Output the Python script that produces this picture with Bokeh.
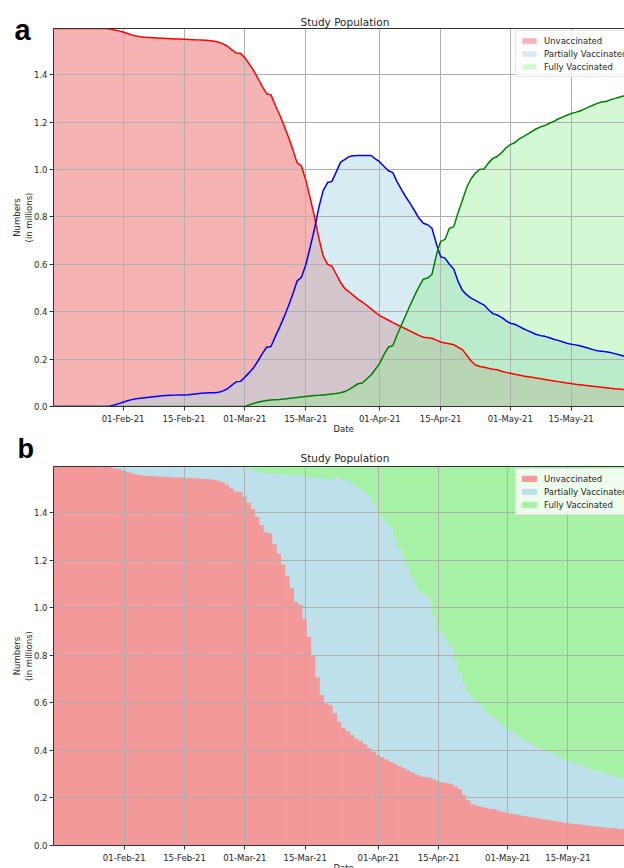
import pandas as pd
from bokeh.plotting import figure
from bokeh.models import (ColumnDataSource, FixedTicker, LinearAxis, Range1d, Title,
                          PrintfTickFormatter, DatetimeTickFormatter)
from bokeh.layouts import column
from bokeh.embed import file_html
from bokeh.resources import INLINE

# ---------------- data (daily, starting 16-Jan-2021), numbers in millions ----------------
start_date = "2021-01-16"

unvaccinated = [1.595] * 13 + [
    1.593, 1.589, 1.585, 1.580, 1.574, 1.568, 1.563, 1.560, 1.558, 1.557,
    1.556, 1.555, 1.554, 1.553, 1.552, 1.551, 1.551, 1.550, 1.549, 1.548,
    1.547, 1.546, 1.545, 1.543, 1.541, 1.537, 1.530, 1.520, 1.505, 1.492,
    1.490, 1.471, 1.445, 1.418, 1.385, 1.350, 1.320, 1.315, 1.270, 1.230,
    1.185, 1.137, 1.085, 1.028, 1.015, 0.955, 0.880, 0.800, 0.710, 0.635,
    0.600, 0.592, 0.558, 0.523, 0.497, 0.483, 0.468, 0.452, 0.441, 0.427,
    0.412, 0.397, 0.383, 0.374, 0.364, 0.354, 0.345, 0.336, 0.327, 0.318,
    0.309, 0.300, 0.292, 0.290, 0.288, 0.280, 0.272, 0.268, 0.265, 0.261,
    0.250, 0.240, 0.216, 0.192, 0.175, 0.169, 0.166, 0.161, 0.157, 0.155,
    0.149, 0.144, 0.140, 0.136, 0.133, 0.129, 0.126, 0.123, 0.120, 0.117,
    0.114, 0.111, 0.108, 0.105, 0.102, 0.099, 0.097, 0.094, 0.092, 0.090,
    0.088, 0.085, 0.083, 0.081, 0.079, 0.077, 0.075, 0.074, 0.072, 0.071,
    0.070]

partially_vaccinated = [0.0] * 13 + [
    0.002, 0.006, 0.012, 0.018, 0.024, 0.029, 0.033, 0.035, 0.037, 0.039,
    0.041, 0.043, 0.045, 0.046, 0.047, 0.048, 0.049, 0.049, 0.050, 0.052,
    0.054, 0.056, 0.057, 0.058, 0.058, 0.060, 0.066, 0.075, 0.090, 0.104,
    0.106, 0.124, 0.143, 0.164, 0.192, 0.223, 0.250, 0.253, 0.296, 0.335,
    0.378, 0.424, 0.474, 0.530, 0.545, 0.598, 0.672, 0.750, 0.840, 0.912,
    0.945, 0.950, 0.990, 1.031, 1.043, 1.055, 1.058, 1.059, 1.059, 1.059,
    1.059, 1.045, 1.032, 1.013, 0.995, 0.987, 0.948, 0.915, 0.884, 0.856,
    0.826, 0.795, 0.773, 0.767, 0.752, 0.688, 0.632, 0.626, 0.600, 0.580,
    0.528, 0.490, 0.471, 0.457, 0.448, 0.437, 0.428, 0.408, 0.392, 0.386,
    0.376, 0.362, 0.351, 0.347, 0.338, 0.328, 0.320, 0.312, 0.304, 0.299,
    0.296, 0.290, 0.284, 0.279, 0.273, 0.267, 0.263, 0.260, 0.256, 0.251,
    0.246, 0.240, 0.235, 0.233, 0.231, 0.228, 0.223, 0.218, 0.213, 0.211,
    0.209]

fully_vaccinated = [0.0] * 44 + [
    0.000, 0.007, 0.013, 0.018, 0.022, 0.025, 0.027, 0.029, 0.030, 0.032,
    0.034, 0.036, 0.038, 0.040, 0.042, 0.044, 0.046, 0.047, 0.049, 0.051,
    0.053, 0.055, 0.058, 0.063, 0.072, 0.084, 0.096, 0.099, 0.116, 0.133,
    0.157, 0.183, 0.220, 0.251, 0.256, 0.303, 0.345, 0.386, 0.428, 0.468,
    0.505, 0.537, 0.542, 0.557, 0.638, 0.697, 0.705, 0.752, 0.758, 0.818,
    0.870, 0.925, 0.961, 0.985, 1.001, 1.002, 1.028, 1.047, 1.055, 1.071,
    1.091, 1.105, 1.113, 1.128, 1.139, 1.149, 1.161, 1.172, 1.180, 1.186,
    1.195, 1.203, 1.213, 1.221, 1.229, 1.236, 1.241, 1.247, 1.255, 1.263,
    1.271, 1.279, 1.285, 1.287, 1.294, 1.299, 1.305, 1.310, 1.313, 1.316]

series_names = ["Unvaccinated", "Partially Vaccinated", "Fully Vaccinated"]
tick_dates = ["2021-02-01", "2021-02-15", "2021-03-01", "2021-03-15",
              "2021-04-01", "2021-04-15", "2021-05-01", "2021-05-15"]
tick_labels = ["01-Feb-21", "15-Feb-21", "01-Mar-21", "15-Mar-21",
               "01-Apr-21", "15-Apr-21", "01-May-21", "15-May-21"]
y_ticks = [0.0, 0.2, 0.4, 0.6, 0.8, 1.0, 1.2, 1.4]
y_max = 1.595

# ---------------- helpers ----------------
FONT = "DejaVu Sans"
TXT = "#262626"
SPINE = "#333333"
GRID = "#b0b0b0"
DAY_MS = 86400000

dates = pd.date_range(start_date, periods=len(unvaccinated), freq="D")
t0_ms = pd.Timestamp(start_date).value // 10**6
tick_ms = [pd.Timestamp(d).value // 10**6 for d in tick_dates]
overrides = {t: lab for t, lab in zip(tick_ms, tick_labels)}


def style(p):
    p.outline_line_color = None
    p.background_fill_color = "white"
    p.border_fill_color = "white"
    p.title.visible = False
    xt = FixedTicker(ticks=tick_ms)
    yt = FixedTicker(ticks=y_ticks)
    p.xaxis.ticker = xt
    p.xgrid.ticker = xt
    p.yaxis.ticker = yt
    p.ygrid.ticker = yt
    p.xaxis.formatter = DatetimeTickFormatter(days="%d-%b-%y", months="%d-%b-%y",
                                              years="%d-%b-%y", hours="%d-%b-%y")
    p.xaxis.major_label_overrides = overrides
    p.yaxis.formatter = PrintfTickFormatter(format="%.1f")
    for ax in (p.xaxis, p.yaxis):
        ax.axis_line_color = SPINE
        ax.axis_line_width = 1
        ax.major_tick_line_color = SPINE
        ax.major_tick_out = 4
        ax.major_tick_in = 0
        ax.minor_tick_line_color = None
        ax.major_label_text_font = FONT
        ax.major_label_text_font_size = "8.5px"
        ax.major_label_text_color = TXT
        ax.axis_label_text_font = FONT
        ax.axis_label_text_font_size = "8.5px"
        ax.axis_label_text_font_style = "normal"
        ax.axis_label_text_color = TXT
    p.xaxis.major_label_standoff = 3
    p.yaxis.major_label_standoff = 2
    p.yaxis.axis_label = "Numbers\n(in millions)"
    p.yaxis.axis_label_standoff = -3
    p.yaxis.axis_label_text_line_height = 1.2
    for g in (p.xgrid, p.ygrid):
        g.grid_line_color = GRID
        g.grid_line_width = 1
    top = LinearAxis(ticker=FixedTicker(ticks=[]), axis_line_color=SPINE,
                     major_tick_line_color=None, minor_tick_line_color=None,
                     major_tick_out=0, major_tick_in=0, minor_tick_out=0,
                     major_label_text_font_size="0px")
    p.add_layout(top, "above")


def title_sp(standoff):
    return Title(text="Study Population", text_font=FONT, text_font_size="10.5px",
                 text_font_style="normal", text_color=TXT, align="left",
                 offset=247, standoff=standoff)


def panel_letter(letter, size, offset, standoff):
    return Title(text=letter, text_font="Liberation Sans", text_font_size=size,
                 text_font_style="bold", text_color="black", align="left",
                 offset=offset, standoff=standoff)


def date_title(standoff):
    return Title(text="Date", text_font=FONT, text_font_size="8.5px",
                 text_font_style="normal", text_color=TXT, align="left",
                 offset=280, standoff=standoff)


def style_legend(p, loc):
    lg = p.legend[0]
    lg.location = loc
    lg.label_text_font = FONT
    lg.label_text_font_size = "8.5px"
    lg.label_text_color = TXT
    lg.glyph_width = 18
    lg.glyph_height = 7
    lg.label_height = 11
    lg.label_standoff = 6
    lg.spacing = 2
    lg.padding = 4
    lg.margin = 0
    lg.border_line_color = "#d0d0d0"
    lg.border_line_width = 1
    lg.background_fill_color = "white"
    lg.background_fill_alpha = 0.8


# ---------------- panel a ----------------
pa = figure(width=624, height=434, x_axis_type="datetime",
            x_range=Range1d(t0_ms, t0_ms + 131.26 * DAY_MS),
            y_range=Range1d(0, y_max),
            output_backend="svg", toolbar_location=None,
            min_border_left=53, min_border_right=0, min_border_top=28,
            min_border_bottom=28)
style(pa)
pa.add_layout(panel_letter("a", "29px", -39, -34), "above")
pa.add_layout(title_sp(2), "above")
pa.add_layout(date_title(-9), "below")

fills_a = [("#F08080", 0.6), ("#ADD8E6", 0.5), ("#90EE90", 0.4)]
line_cols = ["red", "blue", "green"]
series = [unvaccinated, partially_vaccinated, fully_vaccinated]
for s, name, (fc, fa) in zip(series, series_names, fills_a):
    pa.varea(x=dates, y1=0, y2=s, fill_color=fc, fill_alpha=fa,
             legend_label=name, level="image")
for s, lc in zip(series, line_cols):
    pa.line(x=dates, y=s, line_color=lc, line_width=1.5)
style_legend(pa, (462, 329))

# ---------------- panel b ----------------
src = ColumnDataSource(dict(date=dates, unvacc=unvaccinated,
                            partial=partially_vaccinated, full=fully_vaccinated))
pb = figure(width=624, height=434, x_axis_type="datetime",
            x_range=Range1d(t0_ms - 0.42 * DAY_MS, t0_ms + 132.13 * DAY_MS),
            y_range=Range1d(0, y_max),
            output_backend="svg", toolbar_location=None,
            min_border_left=51, min_border_right=0, min_border_top=32,
            min_border_bottom=23)
style(pb)
pb.add_layout(title_sp(6), "above")
pb.add_layout(panel_letter("b", "27px", -36, -34), "above")
pb.add_layout(date_title(-10), "below")

bar_cols = ["#F39999", "#BDE0EB", "#A6F1A6"]
pb.vbar_stack(["unvacc", "partial", "full"], x="date", width=DAY_MS,
              fill_color=bar_cols, line_color=bar_cols, line_width=1,
              source=src, legend_label=series_names, level="image")
style_legend(pb, (462, 330))

layout = column(pa, pb, spacing=0)
open("out.html", "w").write(file_html(layout, INLINE))
